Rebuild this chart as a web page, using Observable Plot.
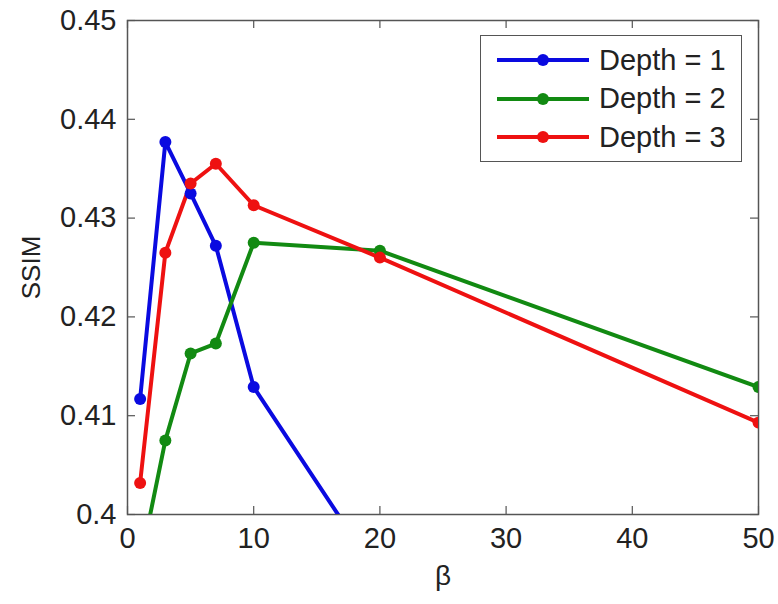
<!DOCTYPE html>
<html><head><meta charset="utf-8">
<script src="https://cdn.jsdelivr.net/npm/d3@7"></script>
<script src="https://cdn.jsdelivr.net/npm/@observablehq/plot@0.6"></script>
<style>
body{margin:0;background:#fff;font-family:"Liberation Sans",Arial,sans-serif;}
#wrap{position:relative;width:778px;height:604px;}
#legend{position:absolute;left:480px;top:35px;width:262px;height:127px;border:1.5px solid #555;background:#fff;box-sizing:border-box;padding-top:5px;}
.row{display:flex;align-items:center;height:38.5px;font-size:29px;color:#222;}
.row svg{margin-left:16px;margin-right:10px;}
</style></head>
<body><div id="wrap"></div>
<script>
const beta = [1, 3, 5, 7, 10, 20, 50];
const depth1 = [0.4117, 0.4377, 0.4325, 0.4272, 0.4129, 0.3936, null];
const depth2 = [0.3950, 0.4075, 0.4163, 0.4173, 0.4275, 0.4267, 0.4129];
const depth3 = [0.4032, 0.4265, 0.4335, 0.4355, 0.4313, 0.4260, 0.4093];
const seriesNames = ["Depth = 1", "Depth = 2", "Depth = 3"];
const seriesColors = ["#0a0ae0", "#128a12", "#ee1111"];
const xTicks = [0, 10, 20, 30, 40, 50];
const yTicks = [0.40, 0.41, 0.42, 0.43, 0.44, 0.45];

const allSeries = [depth1, depth2, depth3];
const rows = [];
allSeries.forEach((vals, i) => vals.forEach((v, j) => {
  if (v != null) rows.push({beta: beta[j], ssim: v, series: seriesNames[i]});
}));

const W = 778, H = 604, mL = 127, mR = 20, mT = 20, mB = 90, tick = 8;
const innerW = W - mL - mR, innerH = H - mT - mB;
const fmt = d => String(+d.toFixed(2));
const tickStyle = {stroke: "#555", strokeWidth: 1.2};
const chart = Plot.plot({
  width: W, height: H,
  marginLeft: mL, marginRight: mR, marginTop: mT, marginBottom: mB,
  style: {fontFamily: '"Liberation Sans", Arial, sans-serif', fontSize: "29px", color: "#222", background: "#fff"},
  x: {domain: [0, 50]},
  y: {domain: [0.40, 0.45]},
  color: {domain: seriesNames, range: seriesColors},
  marks: [
    Plot.frame({stroke: "#555", strokeWidth: 1.5}),
    Plot.axisX(xTicks, {anchor: "bottom", tickSize: 0, tickPadding: 13, tickFormat: fmt, label: null, fill: "#222"}),
    Plot.axisX({anchor: "bottom", ticks: [], tickSize: 0, label: "β", labelAnchor: "center", labelOffset: 70, labelArrow: "none", fill: "#222", fontSize: 28}),
    Plot.axisY(yTicks, {anchor: "left", tickSize: 0, tickPadding: 11, tickFormat: fmt, label: null, fill: "#222"}),
    Plot.axisY({anchor: "left", ticks: [], tickSize: 0, label: "SSIM", labelAnchor: "center", labelOffset: 106, labelArrow: "none", fill: "#222", fontSize: 26}),
    Plot.ruleX(xTicks, {...tickStyle, insetTop: innerH - tick}),
    Plot.ruleX(xTicks, {...tickStyle, insetBottom: innerH - tick}),
    Plot.ruleY(yTicks, {...tickStyle, insetRight: innerW - tick}),
    Plot.ruleY(yTicks, {...tickStyle, insetLeft: innerW - tick}),
    Plot.line(rows, {x: "beta", y: "ssim", stroke: "series", z: "series", strokeWidth: 4, clip: true}),
    Plot.dot(rows, {x: "beta", y: "ssim", fill: "series", r: 6, clip: true})
  ]
});
const wrap = document.getElementById("wrap");
wrap.appendChild(chart);

const leg = document.createElement("div");
leg.id = "legend";
seriesNames.forEach((name, i) => {
  const row = document.createElement("div");
  row.className = "row";
  row.innerHTML = `<svg width="92" height="14"><line x1="0" y1="7" x2="92" y2="7" stroke="${seriesColors[i]}" stroke-width="4"/><circle cx="46" cy="7" r="6" fill="${seriesColors[i]}"/></svg><span>${name}</span>`;
  leg.appendChild(row);
});
wrap.appendChild(leg);
</script></body></html>
